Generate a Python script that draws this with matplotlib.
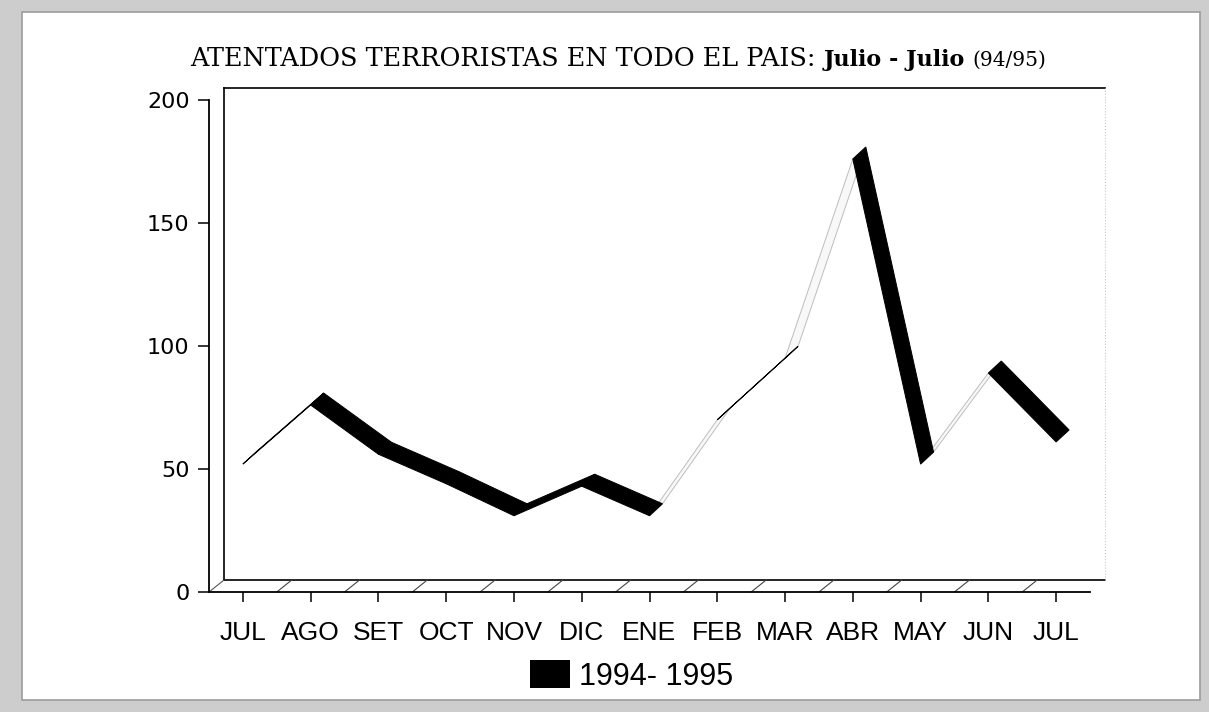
import matplotlib.pyplot as plt
from matplotlib.patches import Polygon, Rectangle, Patch

# %% data

months = ['JUL', 'AGO', 'SET', 'OCT', 'NOV', 'DIC', 'ENE', 'FEB', 'MAR', 'ABR', 'MAY', 'JUN', 'JUL']
atentados = [52, 76, 56, 44, 31, 43, 31, 70, 95, 176, 52, 89, 61]
yticks = [0, 50, 100, 150, 200]
serie = '1994- 1995'

title_1 = 'ATENTADOS TERRORISTAS EN TODO EL PAIS: '
title_2 = 'Julio - Julio '
title_3 = '(94/95)'

# %% figure

W, H = 1209, 712
fig = plt.figure(figsize=(W / 100, H / 100), dpi=100)
fig.patch.set_facecolor('#cdcdcd')
fig.add_artist(Rectangle((22 / W, 12 / H), (1200 - 22) / W, (700 - 12) / H,
                         transform=fig.transFigure, facecolor='white',
                         edgecolor='#9c9c9c', lw=1.2, zorder=-5))

ax = fig.add_axes([209 / W, 1 - 592 / H, (1090 - 209) / W, (592 - 100) / H])
ax.set_xlim(-0.5, 12.5)
ax.set_ylim(0, 200)
ax.patch.set_alpha(0)

sans = 'Liberation Sans'
serif = 'DejaVu Serif'

for s in ['top', 'right']:
    ax.spines[s].set_visible(False)
ax.spines['left'].set_linewidth(1.3)
ax.spines['bottom'].set_linewidth(1.3)

ax.set_yticks(yticks)
ax.set_yticklabels([str(v) for v in yticks], fontfamily='DejaVu Sans', fontsize=16)
ax.set_xticks(range(len(months)))
ax.set_xticklabels(months, fontfamily=sans, fontsize=19)
ax.tick_params(axis='y', length=8, width=1.1, pad=6)
ax.tick_params(axis='x', length=7, width=1.1, pad=14)

# pixel -> data conversions for the 3D depth
px_x = ax.bbox.width / 13.0
px_y = ax.bbox.height / 200.0
wdx, wdy = 15 / px_x, 12 / px_y     # back wall offset
rdx_px, rdy_px = 13, 12             # ribbon depth in pixels
rdx, rdy = rdx_px / px_x, rdy_px / px_y

kw = dict(color='black', lw=1.2, clip_on=False)
x0, x1 = -0.5, 12.5
ax.plot([x0 + wdx, x0 + wdx], [wdy, 200 + wdy], **kw)
ax.plot([x0 + wdx, x1 + wdx], [200 + wdy, 200 + wdy], **kw)
ax.plot([x0 + wdx, x1 + wdx], [wdy, wdy], **kw)
ax.plot([x0, x0 + wdx], [0, wdy], color='#555555', lw=0.8, clip_on=False)
ax.plot([x1 + wdx, x1 + wdx], [wdy, 200 + wdy], color='#c8c8c8', lw=0.8,
        ls=':', clip_on=False)
for k in range(12):
    xm = k + 0.5
    ax.plot([xm, xm + wdx], [0, wdy], color='#444444', lw=0.8, clip_on=False)

# %% ribbon line

for i in range(len(atentados) - 1):
    xa, ya = i, atentados[i]
    xb, yb = i + 1, atentados[i + 1]
    pts = [(xa, ya), (xb, yb), (xb + rdx, yb + rdy), (xa + rdx, ya + rdy)]
    # top face visible when the segment is flatter than the depth direction
    slope_px = (yb - ya) * px_y / px_x
    if slope_px < rdy_px / rdx_px:
        poly = Polygon(pts, closed=True, facecolor='black', edgecolor='black',
                       lw=0.7, clip_on=False, zorder=3)
    else:
        poly = Polygon(pts, closed=True, facecolor='#f8f8f8', edgecolor='#bdbdbd',
                       lw=0.7, clip_on=False, zorder=2)
    ax.add_patch(poly)

# %% title and legend

t1 = fig.text(190 / W, 1 - 71 / H, title_1, fontfamily=serif, fontsize=18.4,
              va='bottom', ha='left')
t2 = fig.text(0, 0, title_2, fontfamily=serif, fontsize=16, fontweight='bold',
              va='bottom', ha='left')
t3 = fig.text(0, 0, title_3, fontfamily=serif, fontsize=14.5, va='bottom', ha='left')
fig.canvas.draw()
r = fig.canvas.get_renderer()
bb1 = t1.get_window_extent(r)
t2.set_position((bb1.x1 / W, bb1.y0 / H))
bb2 = t2.get_window_extent(r)
t3.set_position((bb2.x1 / W, bb2.y0 / H + 0.002))

fig.legend(handles=[Patch(facecolor='black', label=serie)],
           loc='center', bbox_to_anchor=(632 / W, 1 - 676 / H), frameon=False,
           handlelength=1.3, handleheight=1.0, handletextpad=0.3,
           prop={'family': sans, 'size': 22})

fig.savefig('out.png', dpi=100, facecolor=fig.get_facecolor())
